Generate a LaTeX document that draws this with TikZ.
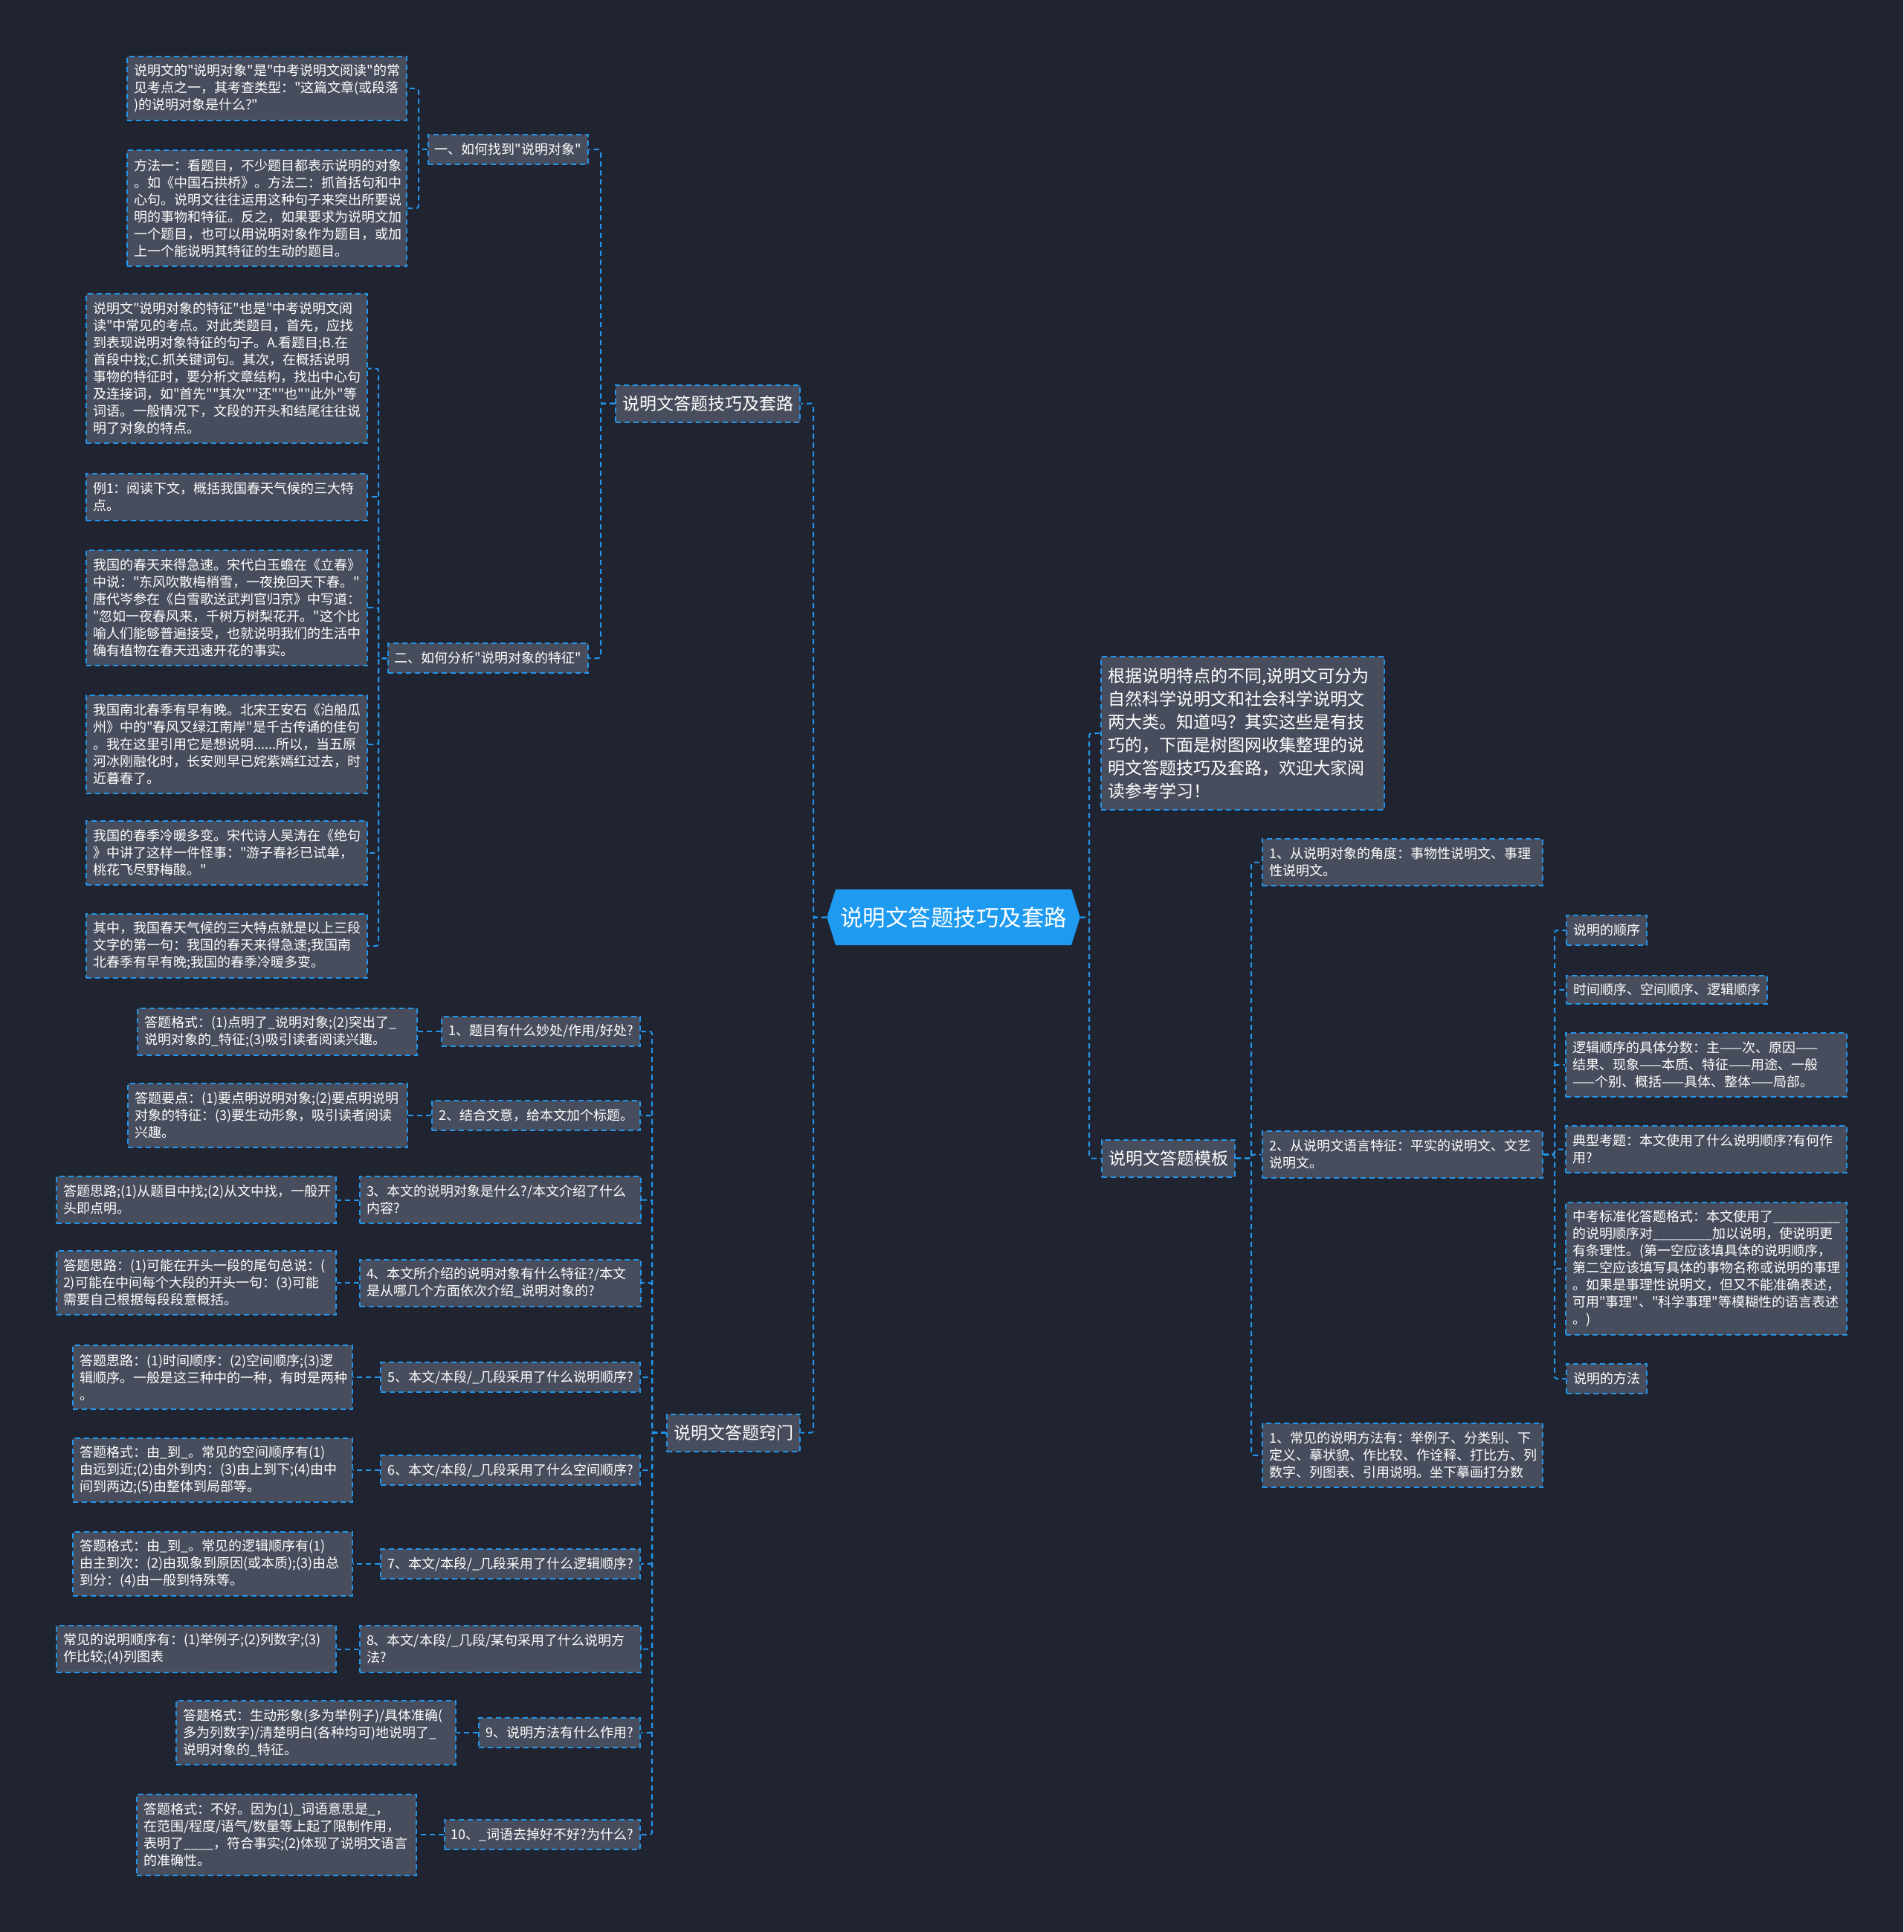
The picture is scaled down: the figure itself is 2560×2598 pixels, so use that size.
\documentclass[tikz,border=0pt]{standalone}
\usepackage{fontspec}
\newfontfamily\cjk{Noto Sans CJK SC}
\usetikzlibrary{shapes.symbols}

\definecolor{bgdark}{RGB}{32,35,48}
\definecolor{boxgray}{RGB}{71,77,92}
\definecolor{lineblue}{RGB}{33,150,235}
\definecolor{rootblue}{RGB}{30,155,240}

\tikzset{
  link/.style={draw=lineblue, line width=2pt, dash pattern=on 7pt off 5pt, rounded corners=3pt},
  topic/.style={draw=lineblue, line width=2pt, dash pattern=on 7pt off 5pt, fill=boxgray,
    text=white, inner xsep=9pt, inner ysep=0pt, minimum height=40pt, align=left,
    font=\cjk\fontsize{18}{23}\selectfont},
  note/.style={topic, text width=#1},
  branch/.style={topic, minimum height=50pt, font=\cjk\fontsize{23}{31}\selectfont},
  rootnode/.style={signal, signal to=west and east, signal pointer angle=145, fill=rootblue,
    text=white, minimum height=75pt, inner xsep=6pt, font=\cjk\fontsize{30.5}{36}\selectfont}
}

\begin{document}
\begin{tikzpicture}[x=1pt, y=-1pt]
\fill[bgdark] (0,0) rectangle (2560,2598);
\useasboundingbox (0,0) rectangle (2560,2598);

\node[rootnode] (root) at (1282.5,1233.5) {说明文答题技巧及套路};

% left: 说明文答题技巧及套路
\node[branch, anchor=east] (skill) at (1077,542.5) {说明文答题技巧及套路};
\node[topic, anchor=east] (findobj) at (792,201) {一、如何找到"说明对象"};
\node[note=358pt, minimum height=86pt] (fo1) at (359,119)
  {说明文的"说明对象"是"中考说明文阅读"的常\\见考点之一，其考查类型："这篇文章(或段落\\)的说明对象是什么?"};
\node[note=358pt, minimum height=156pt] (fo2) at (359,280)
  {方法一：看题目，不少题目都表示说明的对象\\。如《中国石拱桥》。方法二：抓首括句和中\\心句。说明文往往运用这种句子来突出所要说\\明的事物和特征。反之，如果要求为说明文加\\一个题目，也可以用说明对象作为题目，或加\\上一个能说明其特征的生动的题目。};
\node[topic, anchor=east] (feature) at (792,885) {二、如何分析"说明对象的特征"};
\node[note=360pt, minimum height=201pt] (fe1) at (305,495.5)
  {说明文"说明对象的特征"也是"中考说明文阅\\读"中常见的考点。对此类题目，首先，应找\\到表现说明对象特征的句子。A.看题目;B.在\\首段中找;C.抓关键词句。其次，在概括说明\\事物的特征时，要分析文章结构，找出中心句\\及连接词，如"首先""其次""还""也""此外"等\\词语。一般情况下，文段的开头和结尾往往说\\明了对象的特点。};
\node[note=360pt, minimum height=63pt] (fe2) at (305,668)
  {例1：阅读下文，概括我国春天气候的三大特\\点。};
\node[note=360pt, minimum height=155pt] (fe3) at (305,817)
  {我国的春天来得急速。宋代白玉蟾在《立春》\\中说："东风吹散梅梢雪，一夜挽回天下春。"\\唐代岑参在《白雪歌送武判官归京》中写道：\\"忽如一夜春风来，千树万树梨花开。"这个比\\喻人们能够普遍接受，也就说明我们的生活中\\确有植物在春天迅速开花的事实。};
\node[note=360pt, minimum height=132pt] (fe4) at (305,1001)
  {我国南北春季有早有晚。北宋王安石《泊船瓜\\州》中的"春风又绿江南岸"是千古传诵的佳句\\。我在这里引用它是想说明......所以，当五原\\河冰刚融化时，长安则早已姹紫嫣红过去，时\\近暮春了。};
\node[note=360pt, minimum height=86pt] (fe5) at (305,1147)
  {我国的春季冷暖多变。宋代诗人吴涛在《绝句\\》中讲了这样一件怪事："游子春衫已试单，\\桃花飞尽野梅酸。"};
\node[note=360pt, minimum height=86pt] (fe6) at (305,1272)
  {其中，我国春天气候的三大特点就是以上三段\\文字的第一句：我国的春天来得急速;我国南\\北春季有早有晚;我国的春季冷暖多变。};

% left: 说明文答题窍门
\node[branch, anchor=east] (trick) at (1077,1926.5) {说明文答题窍门};
\node[topic, anchor=east] (q1) at (862,1387) {1、题目有什么妙处/作用/好处?};
\node[note=358pt, minimum height=63pt] (a1) at (373,1387)
  {答题格式：(1)点明了\_说明对象;(2)突出了\_\\说明对象的\_特征;(3)吸引读者阅读兴趣。};
\node[topic, anchor=east] (q2) at (862,1500) {2、结合文意，给本文加个标题。};
\node[note=358pt, minimum height=86pt] (a2) at (360,1500)
  {答题要点：(1)要点明说明对象;(2)要点明说明\\对象的特征：(3)要生动形象，吸引读者阅读\\兴趣。};
\node[note=360pt, minimum height=63pt] (q3) at (673,1613.5)
  {3、本文的说明对象是什么?/本文介绍了什么\\内容?};
\node[note=358pt, minimum height=63pt] (a3) at (264,1613.5)
  {答题思路;(1)从题目中找;(2)从文中找，一般开\\头即点明。};
\node[note=360pt, minimum height=63pt] (q4) at (673,1725)
  {4、本文所介绍的说明对象有什么特征?/本文\\是从哪几个方面依次介绍\_说明对象的?};
\node[note=358pt, minimum height=86pt] (a4) at (264,1725)
  {答题思路：(1)可能在开头一段的尾句总说：(\\2)可能在中间每个大段的开头一句：(3)可能\\需要自己根据每段段意概括。};
\node[topic, anchor=east] (q5) at (862,1852) {5、本文/本段/\_几段采用了什么说明顺序?};
\node[note=358pt, minimum height=86pt] (a5) at (286,1852)
  {答题思路：(1)时间顺序：(2)空间顺序;(3)逻\\辑顺序。一般是这三种中的一种，有时是两种\\。};
\node[topic, anchor=east] (q6) at (862,1977) {6、本文/本段/\_几段采用了什么空间顺序?};
\node[note=358pt, minimum height=86pt] (a6) at (286,1977)
  {答题格式：由\_到\_。常见的空间顺序有(1)\\由远到近;(2)由外到内：(3)由上到下;(4)由中\\间到两边;(5)由整体到局部等。};
\node[topic, anchor=east] (q7) at (862,2103) {7、本文/本段/\_几段采用了什么逻辑顺序?};
\node[note=358pt, minimum height=86pt] (a7) at (286,2103)
  {答题格式：由\_到\_。常见的逻辑顺序有(1)\\由主到次：(2)由现象到原因(或本质);(3)由总\\到分：(4)由一般到特殊等。};
\node[note=360pt, minimum height=63pt] (q8) at (673,2217.5)
  {8、本文/本段/\_几段/某句采用了什么说明方\\法?};
\node[note=358pt, minimum height=63pt] (a8) at (264,2217.5)
  {常见的说明顺序有：(1)举例子;(2)列数字;(3)\\作比较;(4)列图表};
\node[topic, anchor=east] (q9) at (862,2330) {9、说明方法有什么作用?};
\node[note=358pt, minimum height=86pt] (a9) at (425,2330)
  {答题格式：生动形象(多为举例子)/具体准确(\\多为列数字)/清楚明白(各种均可)地说明了\_\\说明对象的\_特征。};
\node[topic, anchor=east] (q10) at (862,2467) {10、\_词语去掉好不好?为什么?};
\node[note=358pt, minimum height=109pt] (a10) at (372,2467)
  {答题格式：不好。因为(1)\_词语意思是\_，\\在范围/程度/语气/数量等上起了限制作用，\\表明了\_\_\_\_，符合事实;(2)体现了说明文语言\\的准确性。};

% right side
\node[branch, text width=363pt, minimum height=206pt] (intro) at (1671.5,986)
  {根据说明特点的不同,说明文可分为\\自然科学说明文和社会科学说明文\\两大类。知道吗？其实这些是有技\\巧的，下面是树图网收集整理的说\\明文答题技巧及套路，欢迎大家阅\\读参考学习！};
\node[branch, anchor=west] (tmpl) at (1481,1557.5) {说明文答题模板};
\node[note=359pt, minimum height=63pt] (t1) at (1886.5,1159.5)
  {1、从说明对象的角度：事物性说明文、事理\\性说明文。};
\node[note=359pt, minimum height=63pt] (t2) at (1886.5,1552.5)
  {2、从说明文语言特征：平实的说明文、文艺\\说明文。};
\node[note=359pt, minimum height=86pt] (t3) at (1886.5,1957)
  {1、常见的说明方法有：举例子、分类别、下\\定义、摹状貌、作比较、作诠释、打比方、列\\数字、列图表、引用说明。坐下摹画打分数};
\node[topic, anchor=west] (s1) at (2106,1251) {说明的顺序};
\node[topic, anchor=west, minimum height=38pt] (s2) at (2106,1331) {时间顺序、空间顺序、逻辑顺序};
\node[note=360pt, minimum height=86pt] (s3) at (2295,1432)
  {逻辑顺序的具体分数：主——次、原因——\\结果、现象——本质、特征——用途、一般\\——个别、概括——具体、整体——局部。};
\node[note=360pt, minimum height=63pt] (s4) at (2295,1545.5)
  {典型考题：本文使用了什么说明顺序?有何作\\用?};
\node[note=360pt, minimum height=178pt] (s5) at (2295,1706)
  {中考标准化答题格式：本文使用了\_\_\_\_\_\_\_\_\_\\的说明顺序对\_\_\_\_\_\_\_\_加以说明，使说明更\\有条理性。(第一空应该填具体的说明顺序，\\第二空应该填写具体的事物名称或说明的事理\\。如果是事理性说明文，但又不能准确表述，\\可用"事理"、"科学事理"等模糊性的语言表述\\。)};
\node[topic, anchor=west] (s6) at (2106,1854) {说明的方法};

% trunks
\coordinate (tL) at (1094,0);
\coordinate (tR) at (1465,0);
\coordinate (tskill) at (808,0);
\coordinate (ttrick) at (877,0);
\coordinate (tfind) at (563,0);
\coordinate (tfeat) at (509,0);
\coordinate (ttmpl) at (1683,0);
\coordinate (tt2) at (2091,0);

\foreach \c in {skill,trick}
  \draw[link] (root.west) -- (root.west -| tL) |- (\c.east);
\foreach \c in {intro,tmpl}
  \draw[link] (root.east) -- (root.east -| tR) |- (\c.west);
\foreach \c in {findobj,feature}
  \draw[link] (skill.west) -- (skill.west -| tskill) |- (\c.east);
\foreach \c in {fo1,fo2}
  \draw[link] (findobj.west) -- (findobj.west -| tfind) |- (\c.east);
\foreach \c in {fe1,fe2,fe3,fe4,fe5,fe6}
  \draw[link] (feature.west) -- (feature.west -| tfeat) |- (\c.east);
\foreach \c in {q1,q2,q3,q4,q5,q6,q7,q8,q9,q10}
  \draw[link] (trick.west) -- (trick.west -| ttrick) |- (\c.east);
\foreach \q/\a in {q1/a1,q2/a2,q3/a3,q4/a4,q5/a5,q6/a6,q7/a7,q8/a8,q9/a9,q10/a10}
  \draw[link] (\q.west) -- (\a.east);
\foreach \c in {t1,t2,t3}
  \draw[link] (tmpl.east) -- (tmpl.east -| ttmpl) |- (\c.west);
\foreach \c in {s1,s2,s3,s4,s5,s6}
  \draw[link] (t2.east) -- (t2.east -| tt2) |- (\c.west);
\end{tikzpicture}
\end{document}
